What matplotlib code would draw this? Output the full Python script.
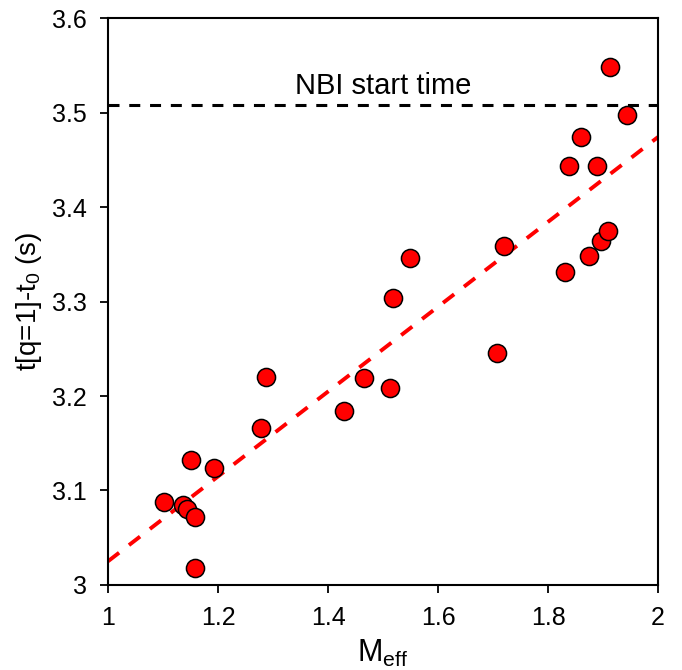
import numpy as np
import matplotlib.pyplot as plt

plt.rcParams['font.family'] = ['Liberation Sans', 'DejaVu Sans']

# M_eff vs t[q=1]-t0
m_eff = [1.102, 1.137, 1.144, 1.159, 1.158, 1.150, 1.192,
         1.278, 1.287, 1.429, 1.466, 1.513, 1.518, 1.549,
         1.708, 1.720,
         1.831, 1.838, 1.860, 1.875, 1.890, 1.896, 1.910, 1.913, 1.944]
t_q1 = [3.088, 3.085, 3.080, 3.072, 3.018, 3.132, 3.124,
        3.166, 3.220, 3.184, 3.219, 3.208, 3.304, 3.346,
        3.246, 3.359,
        3.331, 3.443, 3.474, 3.348, 3.443, 3.364, 3.375, 3.548, 3.497]
nbi_start = 3.508

fig = plt.figure(figsize=(6.82, 6.70), dpi=100)
ax = fig.add_axes([0.1584, 0.1269, 0.8064, 0.8461])

# linear fit
k, b = np.polyfit(m_eff, t_q1, 1)
xf = np.array([1.0, 2.0])
ax.plot(xf, k * xf + b, color='#ff0000', lw=2.8, dashes=(3.6, 3.2), zorder=2)

ax.axhline(nbi_start, color='black', lw=2.2, dashes=(3.6, 3.2), zorder=2)
ax.text(1.5, nbi_start + 0.005, 'NBI start time', ha='center', va='bottom', fontsize=21)

ax.scatter(m_eff, t_q1, s=170, color='#ff0000', edgecolor='black', linewidth=1.1, zorder=3)

ax.set_xlim(1, 2)
ax.set_ylim(3, 3.6)
ax.set_xticks(np.arange(1, 2.01, 0.2))
ax.set_xticklabels(['1', '1.2', '1.4', '1.6', '1.8', '2'])
ax.set_yticks(np.arange(3, 3.61, 0.1))
ax.set_yticklabels(['3', '3.1', '3.2', '3.3', '3.4', '3.5', '3.6'])
ax.tick_params(labelsize=18, width=1.3, length=6, direction='out', pad=9)
for s in ax.spines.values():
    s.set_linewidth(1.5)

ax.set_xlabel('M$_{\\mathregular{eff}}$', fontsize=22, labelpad=6)
ax.set_ylabel('t[q=1]-t$_{\\mathregular{0}}$ (s)', fontsize=20, labelpad=6)

fig.savefig('out.png', dpi=100)
